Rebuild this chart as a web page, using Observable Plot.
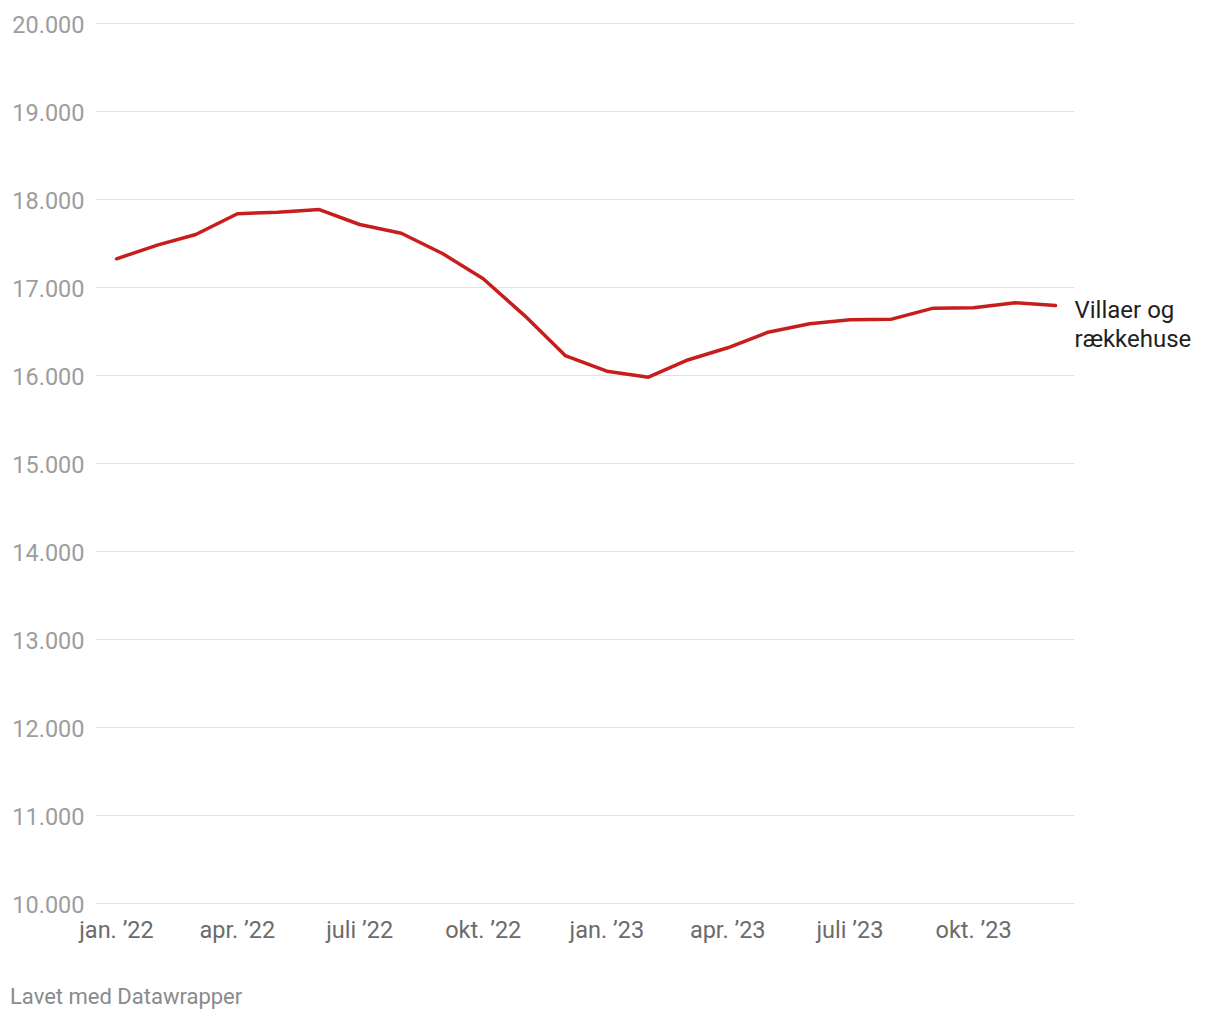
<!DOCTYPE html>
<html>
<head>
<meta charset="utf-8">
<script src="https://cdn.jsdelivr.net/npm/d3@7"></script>
<script src="https://cdn.jsdelivr.net/npm/@observablehq/plot@0.6"></script>
<style>
  html, body { margin: 0; padding: 0; background: #fff; }
  body { width: 1220px; height: 1020px; font-family: Roboto, sans-serif; position: relative; }
  #chart svg { display: block; }
  #caption { position: absolute; left: 10px; top: 984px; font-size: 22px; line-height: 26px; color: #8a8a8a; font-family: Roboto, sans-serif; }
</style>
</head>
<body>
<div id="chart"></div>
<div id="caption">Lavet med Datawrapper</div>
<script>
const months = ["2022-01","2022-02","2022-03","2022-04","2022-05","2022-06","2022-07","2022-08","2022-09","2022-10","2022-11","2022-12",
                "2023-01","2023-02","2023-03","2023-04","2023-05","2023-06","2023-07","2023-08","2023-09","2023-10","2023-11","2023-12"];
const values = [17326, 17485, 17602, 17838, 17856, 17886, 17716, 17617, 17383, 17099, 16678, 16227,
                16049, 15981, 16170, 16315, 16492, 16588, 16633, 16640, 16765, 16770, 16826, 16795];
const seriesLabel = "Villaer og\nrækkehuse";
const yTicks = [10000, 11000, 12000, 13000, 14000, 15000, 16000, 17000, 18000, 19000, 20000];
const monthNames = ["jan.", "feb.", "mar.", "apr.", "maj", "juni", "juli", "aug.", "sep.", "okt.", "nov.", "dec."];

const data = months.map((m, i) => ({date: new Date(m + "-01T00:00:00Z"), value: values[i]}));
const xTicks = data.map(d => d.date).filter(d => d.getUTCMonth() % 3 === 0);
const daLocale = d3.formatLocale({decimal: ",", thousands: ".", grouping: [3], currency: ["", " kr."]});
const yFmt = daLocale.format(",");
const xFmt = d => `${monthNames[d.getUTCMonth()]} \u2019${String(d.getUTCFullYear()).slice(2)}`;

const chart = Plot.plot({
  width: 1220,
  height: 960,
  marginLeft: 96,
  marginRight: 146,
  marginTop: 23,
  marginBottom: 57,
  style: {fontFamily: "Roboto, sans-serif", fontSize: "23.5px", background: "#fff", overflow: "visible"},
  x: {type: "utc", domain: [data[0].date, data[data.length - 1].date], insetLeft: 20, insetRight: 19},
  y: {domain: [10000, 20000]},
  marks: [
    Plot.gridY(yTicks, {stroke: "#e1e1e1", strokeOpacity: 1, strokeWidth: 1}),
    Plot.axisY(yTicks, {tickSize: 0, tickPadding: 12, dy: 1.5, tickFormat: yFmt, fill: "#9d9d9d", fontSize: 23.5, label: null}),
    Plot.axisX(xTicks, {tickSize: 0, tickPadding: 18, tickFormat: xFmt, fill: "#6b6b6b", fontSize: 23.5, label: null}),
    Plot.lineY(data, {x: "date", y: "value", stroke: "#c71e1d", strokeWidth: 3.5, strokeLinejoin: "round"}),
    Plot.text([data[data.length - 1]], {x: "date", y: "value", text: () => seriesLabel, textAnchor: "start", dx: 19, dy: 18, lineHeight: 1.17, fill: "#1f1f1f", fontSize: 24})
  ]
});
document.getElementById("chart").appendChild(chart);
</script>
</body>
</html>
